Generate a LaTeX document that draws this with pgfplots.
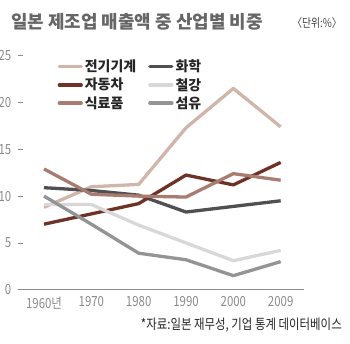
\documentclass[border=0pt]{standalone}
\usepackage{pgfplots}
\pgfplotsset{compat=1.18}
\usepackage{fontspec}
\setmainfont{Noto Sans CJK KR}
\newfontfamily\narrow[FakeStretch=0.82]{Noto Sans CJK KR}
\definecolor{cElec}{HTML}{D2B5AA}
\definecolor{cChem}{HTML}{505052}
\definecolor{cAuto}{HTML}{6E3226}
\definecolor{cSteel}{HTML}{D8D8DA}
\definecolor{cFood}{HTML}{A87C70}
\definecolor{cFib}{HTML}{929496}
\definecolor{tgray}{HTML}{8A8A8A}
\begin{document}
\begin{tikzpicture}[x=1bp,y=1bp]
\path[use as bounding box] (0,0) rectangle (350,344);
\node[anchor=west,text=black!60,font=\bfseries\fontsize{18}{18}\selectfont,inner sep=0] at (11,322) {일본 제조업 매출액 중 산업별 비중};
\node[anchor=east,text=black!75,font=\narrow\fontsize{12}{12}\selectfont,inner sep=0] at (342,321) {〈단위:\%〉};
\node[anchor=east,text=black!85,font=\narrow\fontsize{14}{14}\selectfont,inner sep=0] at (342,19) {*자료:일본 재무성, 기업 통계 데이터베이스};
\begin{axis}[
  at={(43,58)}, anchor=south west,
  width=284bp, height=234bp, scale only axis,
  xmin=-0.5, xmax=5.5, ymin=0, ymax=25,
  axis x line*=bottom, axis y line*=left,
  y axis line style={draw=none},
  x axis line style={tgray, line width=0.6pt, -},
  xtick={0,1,2,3,4,5},
  xticklabels={1960년,1970,1980,1990,2000,2009},
  minor xtick={-0.5,0.5,1.5,2.5,3.5,4.5,5.5},
  xtick style={draw=none},
  minor tick style={tgray, line width=0.6pt},
  minor tick length=8bp,
  ytick={0,5,10,15,20,25},
  ytick style={tgray, line width=0.6pt},
  major tick length=5bp,
  tick align=center,
  /pgf/number format/assume math mode=true,
  tick label style={text=tgray, font=\narrow\fontsize{14}{14}\selectfont},
  yticklabel style={xshift=-3bp},
  xticklabel style={yshift=-1bp},
  clip=false,
  legend columns=2,
  legend cell align=left,
  legend style={draw=none, fill=none, at={(rel axis cs:0.12,1.0)}, anchor=north west,
    font=\bfseries\fontsize{14}{14}\selectfont, text=black!85,
    /tikz/every even column/.append style={column sep=10bp},
    row sep=1bp},
  legend image code/.code={\draw[#1, line cap=round] (0bp,0bp) -- (22bp,0bp);},
  every axis plot/.append style={line width=3.3bp, line join=round},
]
\addplot[cElec] coordinates {(0,8.8) (1,11.0) (2,11.25) (3,17.3) (4,21.5) (5,17.4)};
\addlegendentry{전기기계}
\addplot[cChem] coordinates {(0,10.9) (1,10.6) (2,10.1) (3,8.3) (4,8.9) (5,9.5)};
\addlegendentry{화학}
\addplot[cAuto] coordinates {(0,7.0) (1,8.1) (2,9.2) (3,12.25) (4,11.2) (5,13.6)};
\addlegendentry{자동차}
\addplot[cSteel] coordinates {(0,9.1) (1,9.1) (2,6.9) (3,5.0) (4,3.1) (5,4.2)};
\addlegendentry{철강}
\addplot[cFood] coordinates {(0,12.9) (1,10.2) (2,10.0) (3,9.9) (4,12.4) (5,11.7)};
\addlegendentry{식료품}
\addplot[cFib] coordinates {(0,10.0) (1,7.0) (2,3.9) (3,3.2) (4,1.5) (5,3.0)};
\addlegendentry{섬유}
\end{axis}
\end{tikzpicture}
\end{document}
